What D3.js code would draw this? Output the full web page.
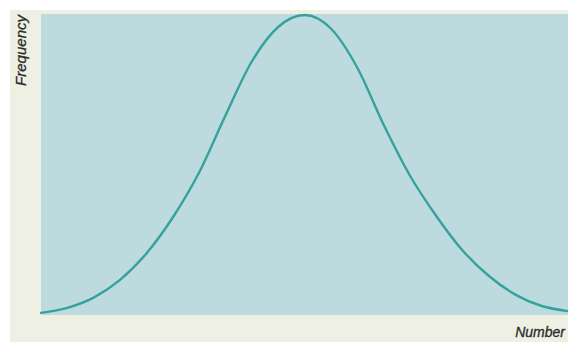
<!DOCTYPE html>
<html><head><meta charset="utf-8">
<script src="https://cdn.jsdelivr.net/npm/d3@7"></script>
<style>html,body{margin:0;padding:0;background:#fff;overflow:hidden}</style>
</head><body>
<svg id="c" width="568" height="344"></svg>
<script>
// Number (0-100 across the axis)
const numbers = [0, 5, 10, 15, 20, 25, 30, 35, 40, 45, 50, 55, 60, 65, 70, 75, 80, 85, 90, 95, 100];
// Frequency (relative, peak = 100)
const frequency = [0.7, 2.4, 5.8, 11.7, 20.5, 32.5, 47.5, 66.5, 84.5, 96, 100, 95.5, 82.5, 63.5, 46.5, 33, 21.5, 13, 6.8, 3.0, 1.3];
const xLabel = "Number";
const yLabel = "Frequency";

const svg = d3.select("#c");
const W = 568, H = 344;
const plot = {left: 41, right: 568, top: 14, bottom: 315};

svg.append("rect").attr("x", 10).attr("y", 10).attr("width", W - 10).attr("height", 332).attr("fill", "#edf0e2");
svg.append("rect").attr("x", plot.left).attr("y", plot.top).attr("width", plot.right - plot.left).attr("height", plot.bottom - plot.top).attr("fill", "#bddadf");

const x = d3.scaleLinear().domain([0, 100]).range([plot.left, plot.right]);
const y = d3.scaleLinear().domain([0, 100]).range([plot.bottom, 15]);

const data = numbers.map((n, i) => ({n, f: frequency[i]}));
const line = d3.line().x(d => x(d.n)).y(d => y(d.f)).curve(d3.curveMonotoneX);

svg.append("path").datum(data).attr("d", line).attr("fill", "none").attr("stroke", "#35a29d").attr("stroke-width", 2.4).attr("stroke-linecap", "round");

svg.append("text").attr("transform", "translate(26,15) rotate(-90)").attr("text-anchor", "end")
  .attr("font-family", "Liberation Sans, Arial, sans-serif").attr("font-style", "italic").attr("font-size", 15)
  .attr("fill", "#2a2a2a").attr("stroke", "#2a2a2a").attr("stroke-width", 0.3).text(yLabel);

svg.append("text").attr("x", 565).attr("y", 337).attr("text-anchor", "end")
  .attr("font-family", "Liberation Sans, Arial, sans-serif").attr("font-style", "italic").attr("font-size", 14)
  .attr("fill", "#2a2a2a").attr("stroke", "#2a2a2a").attr("stroke-width", 0.3).text(xLabel);
</script>
</body></html>
